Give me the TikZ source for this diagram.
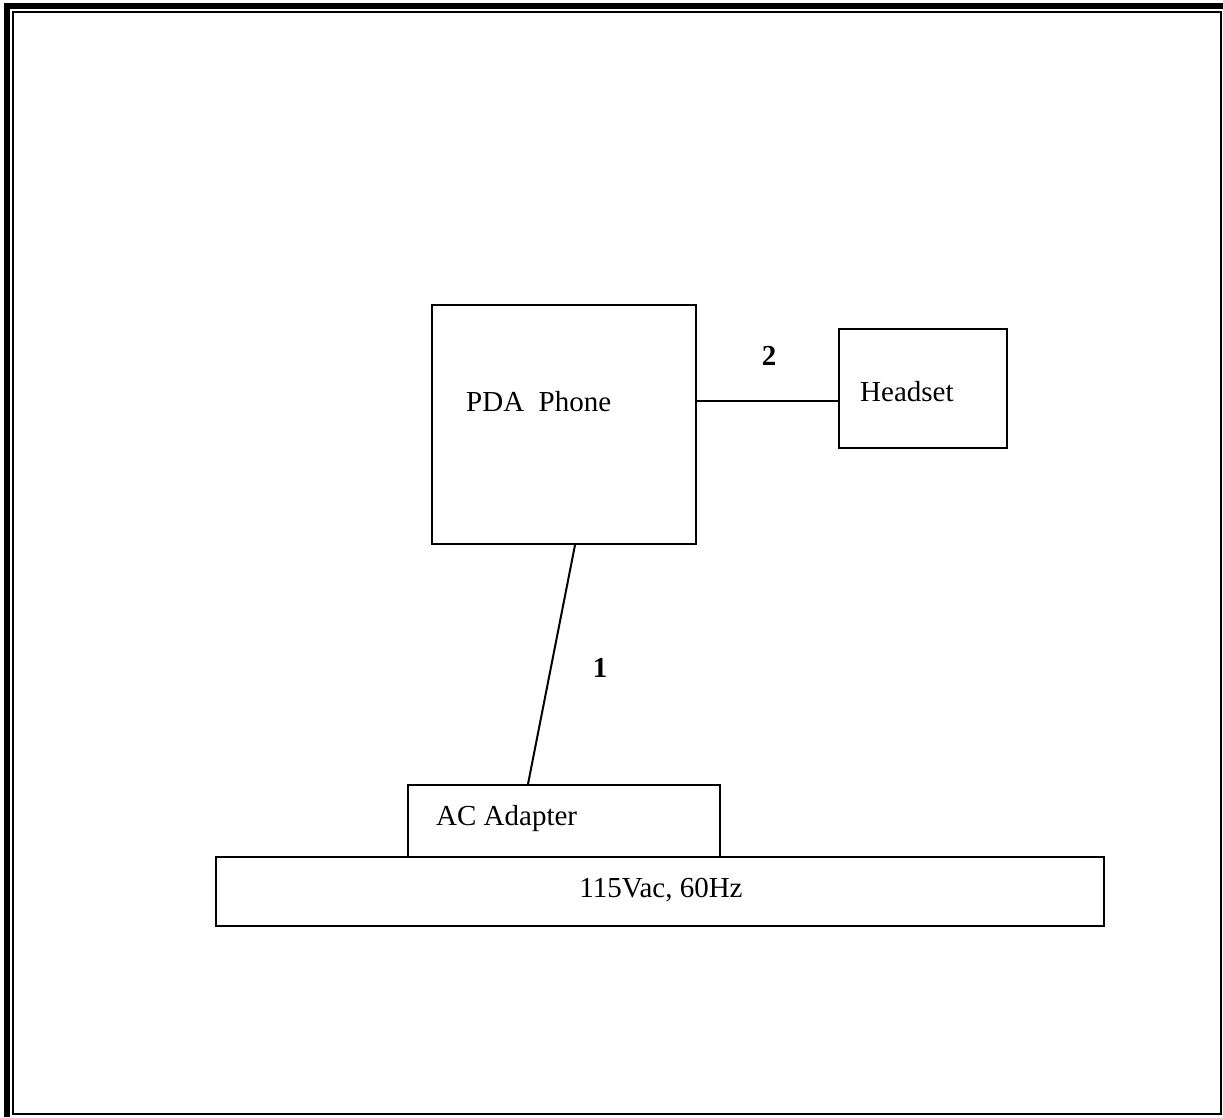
\documentclass[tikz,border=0pt]{standalone}
\usepackage{fontspec}
\setmainfont{Liberation Serif}
\begin{document}
\begin{tikzpicture}[x=1pt,y=-1pt,
		box/.style={draw, line width=2pt, inner sep=0pt},
		txt/.style={anchor=base west, inner sep=0pt, font=\fontsize{29}{34}\selectfont},
		num/.style={anchor=base, inner sep=0pt, font=\fontsize{29}{34}\selectfont\bfseries}]
		\useasboundingbox (0,0) rectangle (1223,1117);
		\draw[line width=6pt] (6.5,1117) -- (6.5,6) -- (1223,6);
		\draw[line width=2pt] (13,12) rectangle (1221,1114);
		\node[box, minimum width=264, minimum height=239] (pda) at (564,424.5) {};
		\node[box, minimum width=168, minimum height=119] (hs) at (923,388.5) {};
		\node[box, minimum width=312, minimum height=72] (ac) at (564,821) {};
		\node[box, minimum width=888, minimum height=69] (mains) at (660,891.5) {};
		\node[txt] (pdatxt) at (466,411) {PDA\ \ Phone};
		\node[txt] (hstxt) at (860,401) {Headset};
		\node[txt] (actxt) at (436,825) {AC Adapter};
		\node[txt, anchor=base] (mainstxt) at (661,897) {115Vac, 60Hz};
		\node[num] (n1) at (600,677) {1};
		\node[num] (n2) at (769,365) {2};
		\draw[line width=2pt] ([xshift=11]pda.south) -- ([xshift=-36]ac.north);
		\draw[line width=2pt] (pda.east |- 0,401) -- (hs.west |- 0,401);
	\end{tikzpicture}
\end{document}
